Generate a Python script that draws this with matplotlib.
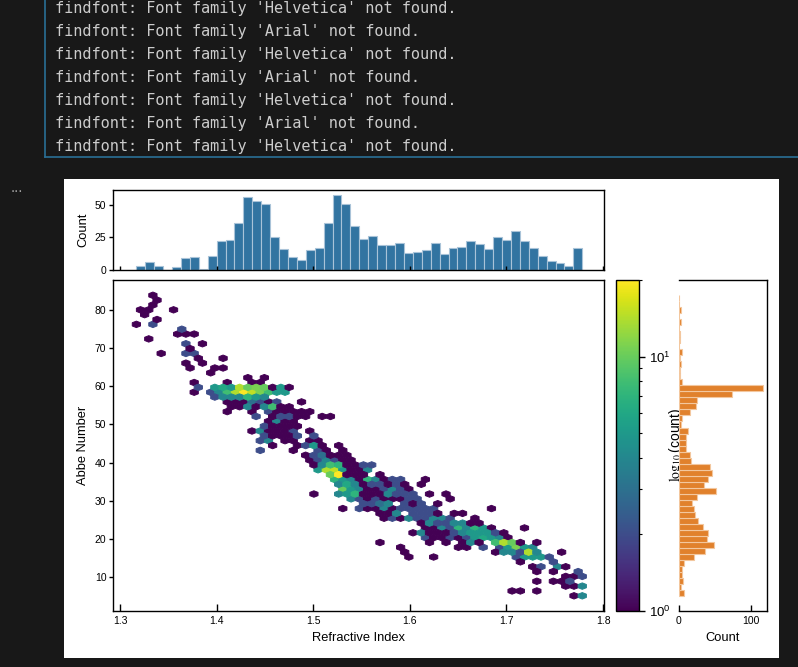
import numpy as np
import matplotlib
matplotlib.use("Agg")
import matplotlib.pyplot as plt
from matplotlib.colors import LogNorm
from matplotlib.patches import Rectangle
from matplotlib.lines import Line2D

plt.rcParams['font.family'] = ['Liberation Sans', 'DejaVu Sans']
plt.rcParams['mathtext.fontset'] = 'stix'

# refractive index / Abbe number ranges of the glass data
nd_range = (1.3169, 1.7785)
vd_range = (5.1, 83.8)

# marginal histograms (50 bins each)
nd_counts = [3, 6, 3, 0, 2, 9, 10, 1, 11, 22, 23, 36, 56, 53, 51, 25, 16, 10, 8, 15,
             17, 36, 58, 51, 34, 24, 26, 19, 19, 21, 13, 14, 15, 21, 12, 17, 18, 22, 20, 16,
             25, 23, 30, 22, 17, 11, 7, 5, 3, 17]
vd_counts = [8, 4, 6, 5, 5, 8, 22, 36, 49, 39, 41, 34, 27, 23, 21, 18, 25, 52, 35, 41,
             46, 43, 17, 16, 10, 11, 10, 13, 4, 5, 16, 24, 26, 74, 116, 5, 2, 2, 4, 2,
             5, 1, 2, 2, 0, 4, 0, 4, 0, 1]

# hexbin cells: hex row -> {hex column: count}
hex_rows = {
    62: {2: 1}, 61: {2: 1}, 60: {2: 1}, 59: {0: 1, 1: 1, 4: 1}, 58: {1: 1},
    57: {2: 1}, 56: {0: 1, 2: 2}, 55: {5: 2}, 54: {5: 1, 6: 1, 7: 1}, 53: {1: 1},
    52: {6: 2, 8: 1}, 51: {6: 1}, 50: {3: 1, 6: 2, 7: 2}, 49: {7: 1, 10: 1},
    48: {6: 1, 8: 1}, 47: {6: 1, 9: 1, 10: 1}, 46: {9: 1}, 45: {13: 1, 15: 1},
    44: {7: 1, 11: 1, 14: 1, 15: 1},
    43: {7: 2, 9: 5, 10: 6, 11: 5, 12: 14, 13: 10, 14: 11, 15: 10, 16: 1, 17: 5, 18: 1},
    42: {7: 1, 9: 2, 10: 4, 11: 8, 12: 14, 13: 20, 14: 15, 15: 11, 16: 8, 17: 5, 18: 5},
    41: {9: 2, 10: 4, 11: 4, 12: 4, 13: 7, 14: 5, 15: 4},
    40: {11: 1, 12: 1, 13: 1, 14: 3, 15: 2, 16: 1, 17: 2, 20: 1},
    39: {11: 1, 12: 1, 13: 4, 14: 1, 15: 4, 16: 8, 17: 1, 18: 1},
    38: {11: 1, 14: 1, 16: 2, 17: 1, 18: 1, 19: 1, 20: 1, 21: 1},
    37: {14: 2, 16: 1, 17: 2, 18: 2, 19: 1, 20: 1, 22: 1, 23: 1},
    36: {16: 1, 17: 4, 18: 1, 19: 1},
    35: {15: 2, 16: 1, 17: 1, 18: 1, 19: 1},
    34: {14: 1, 15: 4, 16: 1, 17: 1, 18: 1, 19: 2, 21: 1},
    33: {15: 2, 16: 1, 17: 1, 18: 1, 19: 2, 21: 2},
    32: {15: 2, 16: 4, 18: 1, 19: 1, 21: 1, 22: 1},
    31: {16: 1, 19: 1, 20: 2, 21: 5, 22: 1, 24: 1},
    30: {15: 2, 19: 1, 22: 2, 23: 1, 25: 1},
    29: {20: 1, 21: 2, 22: 3, 23: 1, 24: 1, 25: 1},
    28: {21: 1, 22: 2, 23: 4, 24: 2, 25: 1, 26: 1},
    27: {21: 1, 22: 4, 23: 8, 24: 7, 25: 1, 26: 1, 27: 2, 28: 2},
    26: {22: 5, 23: 14, 24: 15, 25: 5, 26: 1, 27: 1, 28: 4},
    25: {23: 10, 24: 20, 25: 1, 26: 1, 27: 1, 29: 1},
    24: {24: 7, 25: 5, 26: 4, 27: 1, 28: 7, 29: 4, 30: 1, 31: 2, 32: 2, 35: 1},
    23: {24: 4, 25: 6, 26: 4, 27: 1, 28: 2, 29: 2, 30: 1, 31: 2, 32: 1, 34: 1},
    22: {25: 10, 26: 5, 27: 4, 28: 1, 29: 1, 30: 2, 31: 4, 32: 2, 33: 1},
    21: {21: 1, 24: 4, 25: 5, 26: 7, 27: 1, 28: 1, 29: 1, 30: 4, 31: 2, 32: 2, 33: 2, 35: 1, 37: 1},
    20: {26: 4, 27: 2, 28: 1, 29: 2, 30: 1, 31: 1, 32: 1, 33: 2, 34: 2, 38: 1},
    19: {27: 2, 28: 2, 29: 3, 30: 4, 32: 2, 33: 1, 34: 2, 36: 1},
    18: {25: 1, 27: 2, 28: 1, 29: 1, 30: 4, 31: 1, 32: 2, 33: 2, 34: 2, 35: 2, 36: 2, 43: 1},
    17: {29: 1, 30: 1, 31: 4, 33: 2, 34: 2, 35: 2, 36: 1, 38: 1, 39: 1},
    16: {30: 1, 31: 2, 32: 1, 33: 4, 34: 2, 35: 2, 36: 4, 37: 4, 38: 2, 41: 1},
    15: {34: 1, 35: 4, 36: 2, 37: 2, 38: 4, 39: 4, 40: 1, 41: 1},
    14: {35: 1, 36: 1, 37: 4, 38: 2, 39: 7, 40: 4, 41: 7, 42: 5, 43: 1, 47: 1},
    13: {33: 1, 34: 4, 35: 1, 36: 1, 37: 1, 38: 2, 39: 4, 40: 5, 41: 5, 42: 5, 43: 2, 44: 1},
    12: {35: 2, 36: 1, 37: 1, 38: 2, 39: 1, 40: 2, 41: 5, 42: 6, 43: 5, 44: 4, 45: 1},
    11: {29: 1, 35: 1, 37: 1, 39: 1, 40: 4, 41: 1, 43: 8, 44: 14, 45: 10, 46: 1, 48: 1},
    10: {32: 1, 39: 1, 40: 1, 42: 2, 44: 2, 45: 5, 46: 11, 47: 5, 48: 4},
    9: {32: 1, 43: 1, 44: 4, 45: 4, 46: 2, 47: 14, 48: 4, 51: 1},
    8: {33: 1, 36: 1, 46: 2, 47: 5, 48: 5, 49: 5, 50: 2},
    7: {46: 1, 50: 2},
    6: {48: 1, 49: 2, 51: 4, 52: 1},
    5: {48: 1, 50: 1, 53: 2},
    4: {52: 1, 53: 1, 54: 2},
    3: {48: 1, 50: 1, 51: 1, 52: 2},
    2: {52: 1, 53: 1, 54: 4},
    1: {45: 1, 46: 1, 48: 1},
    0: {53: 1, 54: 4},
}

log_lines = ["findfont: Font family 'Helvetica' not found.",
             "findfont: Font family 'Arial' not found."] * 3 + \
            ["findfont: Font family 'Helvetica' not found."]

W, H = 798, 667
fig = plt.figure(figsize=(W / 100, H / 100), dpi=100)
fig.patch.set_facecolor('#181818')


def box(x0, y0, x1, y1):
    return [x0 / W, 1 - y1 / H, (x1 - x0) / W, (y1 - y0) / H]


# notebook chrome: console output and white figure area
for k, line in enumerate(log_lines):
    fig.text(55 / W, 1 - (12.7 + 23 * k) / H, line, family='DejaVu Sans Mono',
             size=11, color='#cccccc', va='baseline')
fig.add_artist(Line2D([44.5 / W, 44.5 / W], [1, 1 - 157 / H], color='#2a6f95', lw=1.2))
fig.add_artist(Line2D([44.5 / W, 1], [1 - 157 / H, 1 - 157 / H], color='#2a6f95', lw=1.2))
fig.text(17 / W, 1 - 188 / H, '...', color='#a0a0a0', size=11, ha='center', va='center')
fig.add_artist(Rectangle((64 / W, 1 - 657.7 / H), (779 - 64) / W, (657.7 - 179.3) / H,
                         transform=fig.transFigure, facecolor='white', edgecolor='none',
                         zorder=-1))

ax = fig.add_axes(box(113.3, 280, 604, 610.7))
ax_top = fig.add_axes(box(113.3, 190, 604, 270), sharex=ax)
cax = fig.add_axes(box(616, 280, 639, 610.7))
ax_right = fig.add_axes(box(678.5, 280, 766.7, 610.7), sharey=ax)
ax_right.set_facecolor('none')

# hexbin from the cell table
gridsize = 54
ny = int(gridsize / np.sqrt(3))
sx = (nd_range[1] - nd_range[0]) / gridsize
sy = (vd_range[1] - vd_range[0]) / ny
hx, hy, hc = [], [], []
for r, cells in hex_rows.items():
    for i, c in cells.items():
        hx.append(nd_range[0] + (i + 0.5 * (r % 2)) * sx)
        hy.append(vd_range[0] + r * sy / 2)
        hc.append(c)

hb = ax.hexbin(hx, hy, C=hc, reduce_C_function=np.sum, gridsize=gridsize,
               extent=(nd_range[0], nd_range[1], vd_range[0], vd_range[1]),
               cmap='viridis', norm=LogNorm(vmin=1, vmax=20), linewidths=0.7)
ax.set_xlim(1.293, 1.801)
ax.set_ylim(1.2, 87.8)
ax.set_xticks([1.3, 1.4, 1.5, 1.6, 1.7, 1.8])
ax.set_yticks([10, 20, 30, 40, 50, 60, 70, 80])
ax.set_xlabel('Refractive Index', size=9.3)
ax.set_ylabel('Abbe Number', size=9.3)
ax.tick_params(axis='x', direction='in', length=5, width=1, labelsize=7.5, pad=4)
ax.tick_params(axis='y', direction='out', length=3, width=1, labelsize=7.5, pad=2)

# top histogram
nd_bins = np.linspace(nd_range[0], nd_range[1], len(nd_counts) + 1)
nd_mid = (nd_bins[:-1] + nd_bins[1:]) / 2
ax_top.hist(nd_mid, bins=nd_bins, weights=nd_counts, color='#3274a1',
            edgecolor='#a9c3d8', linewidth=0.8)
ax_top.set_ylim(0, 61.5)
ax_top.set_yticks([0, 25, 50])
ax_top.set_ylabel('Count', size=9.3)
ax_top.tick_params(axis='x', direction='in', length=3, width=1, labelbottom=False)
ax_top.tick_params(axis='y', direction='out', length=3, width=1, labelsize=7.5, pad=2)

# right histogram
vd_bins = np.linspace(vd_range[0], vd_range[1], len(vd_counts) + 1)
vd_mid = (vd_bins[:-1] + vd_bins[1:]) / 2
ax_right.hist(vd_mid, bins=vd_bins, weights=vd_counts, orientation='horizontal',
              color='#e1812c', edgecolor='#f3c79e', linewidth=0.8)
ax_right.set_xlim(0, 121.7)
ax_right.set_xticks([0, 100])
ax_right.set_xlabel('Count', size=9.3)
ax_right.spines['left'].set_visible(False)
ax_right.tick_params(axis='x', direction='in', length=4, width=1, labelsize=7.5, pad=4)
ax_right.tick_params(axis='y', left=False, labelleft=False)

# colorbar
cb = fig.colorbar(hb, cax=cax)
cb.set_label(r'$\log_{10}$(count)', size=10, labelpad=-3)
cax.tick_params(which='major', direction='out', length=4, width=1, labelsize=9.5)
cax.tick_params(which='minor', direction='out', length=2.5, width=0.8)

for a in (ax, ax_top, ax_right, cax):
    for s in a.spines.values():
        s.set_linewidth(1.0)

fig.savefig('out.png', dpi=100, facecolor=fig.get_facecolor())
